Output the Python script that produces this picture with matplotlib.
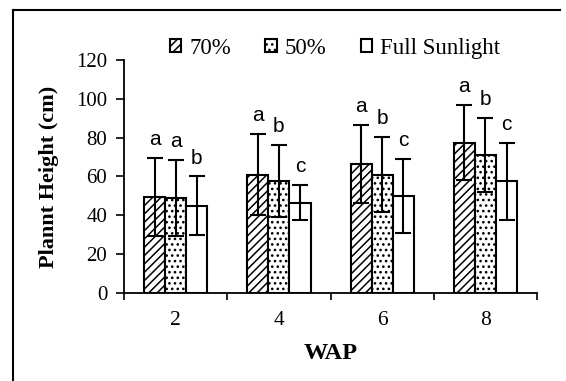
import matplotlib.pyplot as plt
import numpy as np
from matplotlib.lines import Line2D

plt.rcParams['font.family'] = ['Liberation Serif', 'DejaVu Serif']
plt.rcParams['hatch.linewidth'] = 1.1

# data
weeks = ['2', '4', '6', '8']
series = ['70%', '50%', 'Full Sunlight']
h70 = [49.5, 61, 66.5, 77.5]
e70 = [20, 21, 20, 19.5]
h50 = [49, 57.5, 61, 71]
e50 = [19.5, 18.5, 19.5, 19]
hfs = [45, 46.5, 50, 57.5]
efs = [15, 9, 19, 20]
letters = [['a', 'a', 'b'], ['a', 'b', 'c'], ['a', 'b', 'c'], ['a', 'b', 'c']]

heights = [h70, h50, hfs]
errs = [e70, e50, efs]
hatches = ['////', '...', '']

fig = plt.figure(figsize=(5.66, 3.81), dpi=100)
ax = fig.add_axes([0.219, 0.231, 0.730, 0.6115])

x = np.arange(len(weeks))
w = 0.204
for i in range(3):
    xi = x + (i - 1) * w
    ax.bar(xi, heights[i], w, color='white', edgecolor='black', linewidth=1.5,
           hatch=hatches[i], label=series[i], zorder=2)
    ax.errorbar(xi, heights[i], yerr=errs[i], fmt='none', ecolor='black',
                elinewidth=1.5, capsize=5.5, capthick=1.5, zorder=3)
    for j in range(len(weeks)):
        ax.text(xi[j], heights[i][j] + errs[i][j] + 9.5, letters[j][i],
                ha='center', va='center', fontsize=15,
                family=['Liberation Sans', 'DejaVu Sans'])

ax.set_xlim(-0.5, 3.5)
ax.set_ylim(0, 120)
ax.set_yticks(range(0, 121, 20))
ax.set_xticks(x)
ax.set_xticklabels(weeks)
ax.set_xticks(np.arange(-0.5, 4, 1), minor=True)
ax.tick_params(axis='x', which='major', length=0, labelsize=15.5, pad=13)
ax.tick_params(axis='x', which='minor', length=5, width=1.2, direction='out')
ax.tick_params(axis='y', length=6, width=1.2, direction='out', labelsize=15, pad=6)
for s in ['top', 'right']:
    ax.spines[s].set_visible(False)
for s in ['left', 'bottom']:
    ax.spines[s].set_linewidth(1.3)

ax.set_xlabel('WAP', fontsize=17.5, fontweight='bold', labelpad=9)
ax.set_ylabel('Plannt Height (cm)', fontsize=16, fontweight='bold', labelpad=12)

fig.legend(loc='center', bbox_to_anchor=(0.592, 0.874), ncol=3, frameon=False,
           fontsize=16.5, handlelength=0.5, handleheight=0.5, handletextpad=0.35,
           columnspacing=1.5, borderpad=0)

# frame lines around the figure (left and top)
fig.add_artist(Line2D([13 / 566, 13 / 566], [0, 1 - 10 / 381], color='black', lw=1.5))
fig.add_artist(Line2D([13 / 566, 560 / 566], [1 - 10 / 381, 1 - 10 / 381], color='black', lw=1.5))

fig.savefig('out.png', dpi=100)
